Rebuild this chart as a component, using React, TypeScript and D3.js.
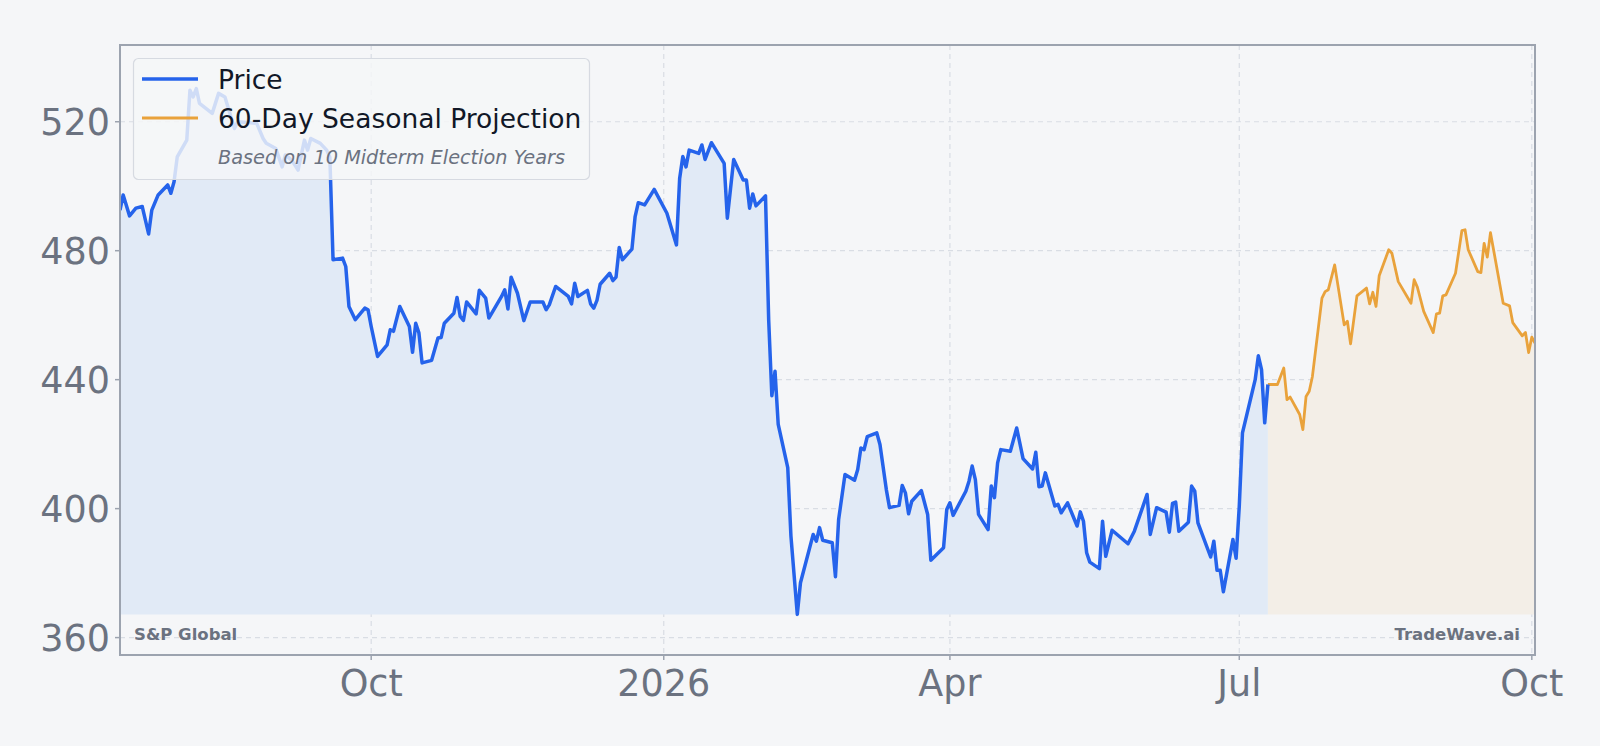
import * as d3 from "d3";

// daily close
const priceDates = [
  "2025-07-14", "2025-07-15", "2025-07-17", "2025-07-19", "2025-07-21", "2025-07-23", "2025-07-24", "2025-07-26",
  "2025-07-29", "2025-07-30", "2025-07-31", "2025-08-01", "2025-08-04", "2025-08-05", "2025-08-06", "2025-08-07",
  "2025-08-08", "2025-08-12", "2025-08-14", "2025-08-16", "2025-08-19", "2025-08-20", "2025-08-26", "2025-08-28",
  "2025-08-29", "2025-09-01", "2025-09-03", "2025-09-04", "2025-09-06", "2025-09-08", "2025-09-10", "2025-09-11",
  "2025-09-12", "2025-09-15", "2025-09-17", "2025-09-18", "2025-09-19", "2025-09-22", "2025-09-23", "2025-09-24",
  "2025-09-26", "2025-09-29", "2025-09-30", "2025-10-01", "2025-10-03", "2025-10-06", "2025-10-07", "2025-10-08",
  "2025-10-10", "2025-10-13", "2025-10-14", "2025-10-15", "2025-10-16", "2025-10-17", "2025-10-20", "2025-10-22",
  "2025-10-23", "2025-10-24", "2025-10-27", "2025-10-28", "2025-10-29", "2025-10-30", "2025-10-31", "2025-11-03",
  "2025-11-04", "2025-11-06", "2025-11-07", "2025-11-11", "2025-11-12", "2025-11-13", "2025-11-14", "2025-11-16",
  "2025-11-18", "2025-11-20", "2025-11-24", "2025-11-25", "2025-11-26", "2025-11-28", "2025-12-02", "2025-12-03",
  "2025-12-04", "2025-12-05", "2025-12-08", "2025-12-09", "2025-12-10", "2025-12-11", "2025-12-12", "2025-12-15",
  "2025-12-16", "2025-12-17", "2025-12-18", "2025-12-19", "2025-12-22", "2025-12-23", "2025-12-24", "2025-12-26",
  "2025-12-29", "2026-01-02", "2026-01-05", "2026-01-06", "2026-01-07", "2026-01-08", "2026-01-09", "2026-01-12",
  "2026-01-13", "2026-01-14", "2026-01-16", "2026-01-20", "2026-01-21", "2026-01-23", "2026-01-26", "2026-01-27",
  "2026-01-28", "2026-01-29", "2026-01-30", "2026-02-02", "2026-02-03", "2026-02-04", "2026-02-05", "2026-02-06",
  "2026-02-09", "2026-02-10", "2026-02-12", "2026-02-13", "2026-02-17", "2026-02-18", "2026-02-19", "2026-02-20",
  "2026-02-23", "2026-02-24", "2026-02-25", "2026-02-27", "2026-03-02", "2026-03-03", "2026-03-04", "2026-03-05",
  "2026-03-06", "2026-03-09", "2026-03-10", "2026-03-12", "2026-03-13", "2026-03-16", "2026-03-17", "2026-03-18",
  "2026-03-19", "2026-03-20", "2026-03-23", "2026-03-25", "2026-03-26", "2026-03-30", "2026-03-31", "2026-04-01",
  "2026-04-02", "2026-04-06", "2026-04-07", "2026-04-08", "2026-04-09", "2026-04-10", "2026-04-13", "2026-04-14",
  "2026-04-15", "2026-04-16", "2026-04-17", "2026-04-20", "2026-04-22", "2026-04-24", "2026-04-27", "2026-04-28",
  "2026-04-29", "2026-04-30", "2026-05-01", "2026-05-04", "2026-05-05", "2026-05-06", "2026-05-08", "2026-05-11",
  "2026-05-12", "2026-05-13", "2026-05-14", "2026-05-15", "2026-05-18", "2026-05-19", "2026-05-20", "2026-05-22",
  "2026-05-27", "2026-05-29", "2026-06-02", "2026-06-03", "2026-06-05", "2026-06-08", "2026-06-09", "2026-06-10",
  "2026-06-11", "2026-06-12", "2026-06-15", "2026-06-16", "2026-06-17", "2026-06-18", "2026-06-22", "2026-06-23",
  "2026-06-24", "2026-06-25", "2026-06-26", "2026-06-29", "2026-06-30", "2026-07-01", "2026-07-02", "2026-07-06",
  "2026-07-07", "2026-07-08", "2026-07-09", "2026-07-10",
];
const priceValues = [
  492.6, 497.3, 490.8, 493.2, 493.7, 485.2, 492.6, 497.3,
  500.4, 497.8, 501.4, 509.1, 514.3, 529.8, 527.7, 530.3,
  525.7, 522.6, 528.8, 527.7, 517.9, 520.0, 519.5, 514.8,
  513.3, 511.7, 506.0, 509.7, 508.1, 505.0, 514.3, 511.2,
  514.8, 513.3, 511.2, 509.0, 477.2, 477.7, 475.1, 462.7,
  458.6, 462.2, 461.7, 456.5, 447.2, 450.8, 455.5, 455.0,
  462.7, 456.5, 448.5, 457.5, 454.5, 445.2, 446.0, 452.9,
  453.1, 457.5, 460.6, 465.5, 459.6, 458.4, 464.1, 460.4,
  467.7, 465.3, 459.1, 465.8, 467.9, 461.9, 471.8, 466.8,
  458.3, 464.1, 464.1, 461.7, 463.2, 468.9, 465.8, 463.5,
  469.9, 465.8, 467.7, 463.5, 462.2, 464.6, 469.6, 473.0,
  470.7, 471.8, 481.0, 477.2, 480.5, 490.6, 494.9, 494.2,
  499.0, 491.6, 481.8, 502.4, 509.2, 506.0, 511.2, 510.2,
  512.8, 508.3, 513.5, 507.1, 490.1, 508.3, 501.9, 501.9,
  493.2, 497.6, 493.9, 497.0, 458.6, 435.0, 442.6, 426.1,
  412.7, 391.5, 367.2, 377.0, 392.0, 389.9, 394.1, 390.2,
  389.4, 378.9, 396.6, 410.6, 408.8, 412.1, 418.8, 418.3,
  422.3, 423.5, 419.9, 405.9, 400.3, 401.0, 407.2, 404.9,
  398.4, 402.3, 405.6, 398.2, 384.0, 387.9, 399.7, 401.8,
  397.9, 405.4, 408.5, 413.2, 409.0, 398.2, 393.5, 407.0,
  403.4, 414.2, 418.3, 417.8, 425.0, 415.5, 412.3, 417.5,
  406.8, 407.0, 411.1, 400.8, 401.3, 398.7, 401.8, 394.6,
  399.0, 396.1, 386.3, 383.4, 381.4, 396.1, 385.2, 393.3,
  389.1, 393.0, 404.4, 392.0, 400.3, 398.9, 392.7, 401.6,
  402.0, 393.0, 395.8, 407.0, 405.4, 395.6, 385.0, 389.9,
  380.9, 380.9, 374.2, 390.4, 384.6, 400.8, 423.5, 440.0,
  447.4, 443.1, 426.6, 438.5,
];

// 60-day seasonal projection
const projectionDates = [
  "2026-07-10", "2026-07-13", "2026-07-15", "2026-07-16", "2026-07-17", "2026-07-20", "2026-07-21", "2026-07-22",
  "2026-07-23", "2026-07-24", "2026-07-27", "2026-07-28", "2026-07-29", "2026-07-31", "2026-08-03", "2026-08-04",
  "2026-08-05", "2026-08-07", "2026-08-10", "2026-08-11", "2026-08-12", "2026-08-13", "2026-08-14", "2026-08-17",
  "2026-08-18", "2026-08-20", "2026-08-24", "2026-08-25", "2026-08-26", "2026-08-28", "2026-08-31", "2026-09-01",
  "2026-09-02", "2026-09-03", "2026-09-04", "2026-09-07", "2026-09-09", "2026-09-10", "2026-09-11", "2026-09-14",
  "2026-09-15", "2026-09-16", "2026-09-17", "2026-09-18", "2026-09-22", "2026-09-24", "2026-09-25", "2026-09-28",
  "2026-09-29", "2026-09-30", "2026-10-01", "2026-10-02",
];
const projectionValues = [
  438.5, 438.5, 443.6, 433.8, 434.6, 429.2, 424.5, 434.8,
  436.4, 441.0, 465.3, 467.3, 467.9, 475.6, 457.0, 458.1,
  451.1, 466.0, 468.4, 463.5, 467.1, 462.7, 472.2, 480.3,
  479.2, 470.4, 463.7, 471.0, 468.7, 461.2, 454.6, 460.4,
  460.6, 466.0, 466.3, 473.0, 486.2, 486.5, 480.3, 473.5,
  473.2, 482.3, 478.0, 485.6, 463.7, 462.9, 457.7, 453.6,
  454.6, 448.4, 453.2, 451.3,
];

const yTicks = [360, 400, 440, 480, 520];
const xTickDates = ["2025-10-01", "2026-01-01", "2026-04-01", "2026-07-01", "2026-10-01"];
const xTickLabels = ["Oct", "2026", "Apr", "Jul", "Oct"];

const width = 1600;
const height = 746;
const plot = { left: 120, right: 1535, top: 45, bottom: 655 };

const BG = "#f5f6f8";
const BLUE = "#2563eb";
const ORANGE = "#e9a23b";
const GRID = "#d9dde4";
const SPINE = "#9ca3af";
const TEXT = "#6b7280";
const FONT = "DejaVu Sans, sans-serif";

type Pt = { date: Date; value: number };

export default function App() {
  const parse = d3.timeParse("%Y-%m-%d");
  const price: Pt[] = priceDates.map((d, i) => ({ date: parse(d)!, value: priceValues[i] }));
  const projection: Pt[] = projectionDates.map((d, i) => ({ date: parse(d)!, value: projectionValues[i] }));

  const x = d3
    .scaleTime()
    .domain([price[0].date, projection[projection.length - 1].date])
    .range([plot.left, plot.right]);
  const y = d3.scaleLinear().domain([354.6, 543.8]).range([plot.bottom, plot.top]);

  // fill goes down to the lowest close, not the axis
  const floor = d3.min(priceValues)!;

  const line = d3
    .line<Pt>()
    .x(d => x(d.date))
    .y(d => y(d.value));
  const area = d3
    .area<Pt>()
    .x(d => x(d.date))
    .y0(y(floor))
    .y1(d => y(d.value));

  const xTicks = xTickDates.map(d => parse(d)!);

  return (
    <svg
      width={width}
      height={height}
      style={{ position: "absolute", left: 0, top: 0, background: BG }}
      fontFamily={FONT}
    >
      <defs>
        <clipPath id="plot-clip">
          <rect x={plot.left} y={plot.top} width={plot.right - plot.left} height={plot.bottom - plot.top} />
        </clipPath>
      </defs>
      <rect width={width} height={height} fill={BG} />

      {/* grid */}
      <g stroke={GRID} strokeWidth={1.2} strokeDasharray="5,4">
        {yTicks.map(t => (
          <line key={"gy" + t} x1={plot.left} x2={plot.right} y1={y(t)} y2={y(t)} />
        ))}
        {xTicks.map((t, i) => (
          <line key={"gx" + i} x1={x(t)} x2={x(t)} y1={plot.top} y2={plot.bottom} />
        ))}
      </g>

      <g clipPath="url(#plot-clip)">
        <path d={area(price)!} fill="#e1eaf6" />
        <path d={area(projection)!} fill="#f3eee7" />
        <path d={line(projection)!} fill="none" stroke={ORANGE} strokeWidth={2.8} strokeLinejoin="round" />
        <path d={line(price)!} fill="none" stroke={BLUE} strokeWidth={3.5} strokeLinejoin="round" />
      </g>

      {/* spines */}
      <rect
        x={plot.left}
        y={plot.top}
        width={plot.right - plot.left}
        height={plot.bottom - plot.top}
        fill="none"
        stroke={SPINE}
        strokeWidth={2}
      />

      {/* y axis */}
      {yTicks.map(t => (
        <g key={"yt" + t}>
          <line x1={plot.left - 5} x2={plot.left} y1={y(t)} y2={y(t)} stroke={SPINE} strokeWidth={1.5} />
          <text x={plot.left - 10} y={y(t)} dy="0.36em" textAnchor="end" fontSize={36.5} fill={TEXT}>
            {t}
          </text>
        </g>
      ))}

      {/* x axis */}
      {xTicks.map((t, i) => (
        <g key={"xt" + i}>
          <line x1={x(t)} x2={x(t)} y1={plot.bottom} y2={plot.bottom + 5} stroke={SPINE} strokeWidth={1.5} />
          <text x={x(t)} y={696} textAnchor="middle" fontSize={36.5} fill={TEXT}>
            {xTickLabels[i]}
          </text>
        </g>
      ))}

      {/* watermarks */}
      <text x={134} y={640} fontSize={16.5} fontWeight="bold" fill={TEXT}>
        S&amp;P Global
      </text>
      <text x={1520} y={640} fontSize={16.5} fontWeight="bold" fill={TEXT} textAnchor="end">
        TradeWave.ai
      </text>

      {/* legend */}
      <g>
        <rect x={133.5} y={58.5} width={456} height={121} rx={5} fill={BG} fillOpacity={0.82} stroke="#d6dae1" strokeWidth={1.2} />
        <line x1={142} x2={198} y1={79} y2={79} stroke={BLUE} strokeWidth={3.5} />
        <text x={218} y={89} fontSize={26.5} fill="#111827">
          Price
        </text>
        <line x1={142} x2={198} y1={118} y2={118} stroke={ORANGE} strokeWidth={2.8} />
        <text x={218} y={128} fontSize={26.5} fill="#111827">
          60-Day Seasonal Projection
        </text>
        <text x={218} y={164} fontSize={19.3} fontStyle="italic" fill={TEXT}>
          Based on 10 Midterm Election Years
        </text>
      </g>
    </svg>
  );
}
